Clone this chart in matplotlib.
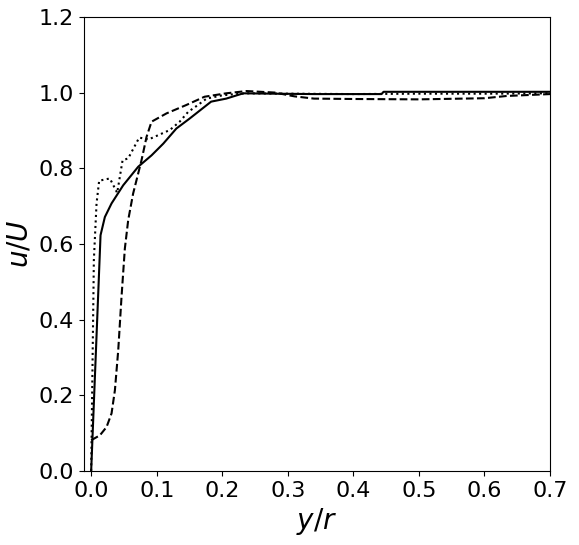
import matplotlib.pyplot as plt
import numpy as np

# solid profile
y_solid = [0.0, 0.0143, 0.0209, 0.0311, 0.0489, 0.0718, 0.0921, 0.110, 0.130, 0.150,
           0.183, 0.206, 0.232, 0.28, 0.34, 0.40, 0.443, 0.446, 0.50, 0.60, 0.70]
u_solid = [0.0, 0.623, 0.671, 0.707, 0.755, 0.804, 0.834, 0.865, 0.905, 0.931,
           0.976, 0.984, 0.998, 0.997, 0.996, 0.996, 0.996, 1.002, 1.002, 1.002, 1.002]

# dotted profile
y_dot = [0.0, 0.0041, 0.0082, 0.0122, 0.0285, 0.0397, 0.0479, 0.0565, 0.0733, 0.0875,
         0.120, 0.135, 0.148, 0.162, 0.176, 0.201, 0.236, 0.30, 0.40, 0.50, 0.60, 0.70]
u_dot = [0.0, 0.557, 0.707, 0.767, 0.773, 0.735, 0.821, 0.826, 0.881, 0.876,
         0.901, 0.923, 0.949, 0.966, 0.984, 0.993, 0.998, 0.997, 0.996, 0.997, 0.997, 0.998]

# dashed profile
y_dash = [0.0, 0.0133, 0.0235, 0.0311, 0.0362, 0.0413, 0.0463, 0.0514, 0.0565, 0.064,
          0.0768, 0.0845, 0.0921, 0.115, 0.145, 0.173, 0.206, 0.237, 0.28, 0.31, 0.34,
          0.40, 0.50, 0.60, 0.634, 0.70]
u_dash = [0.081, 0.094, 0.116, 0.152, 0.213, 0.319, 0.46, 0.588, 0.663, 0.733,
          0.821, 0.883, 0.923, 0.945, 0.967, 0.989, 0.998, 1.004, 1.0, 0.99, 0.984,
          0.983, 0.982, 0.985, 0.991, 0.996]

fig = plt.figure(figsize=(5.79, 5.45), dpi=100)
ax = fig.add_axes([0.145, 0.136, 0.805, 0.833])

ax.plot(y_solid, u_solid, 'k-', lw=1.5)
ax.plot(y_dot, u_dot, 'k:', lw=1.5)
ax.plot(y_dash, u_dash, 'k--', lw=1.5)

ax.set_xlim(-0.011, 0.7)
ax.set_ylim(0, 1.2)
ax.set_xticks(np.arange(0, 0.71, 0.1))
ax.set_yticks(np.arange(0, 1.21, 0.2))
ax.tick_params(labelsize=16)
ax.set_xlabel('$y/r$', fontsize=20)
ax.set_ylabel('$u/U$', fontsize=20)

plt.savefig('out.png', dpi=100)
